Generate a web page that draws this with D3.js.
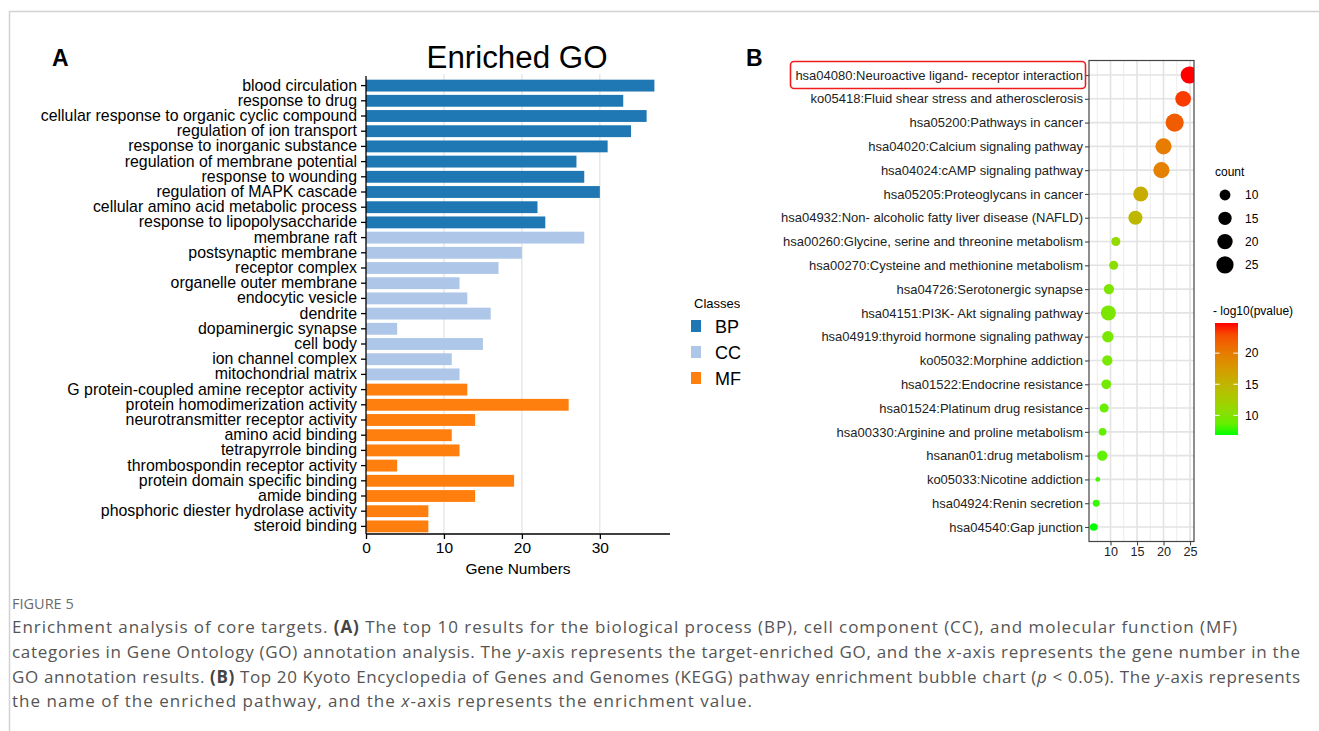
<!DOCTYPE html>
<html>
<head>
<meta charset="utf-8">
<script src="https://cdn.jsdelivr.net/npm/d3@7"></script>
<style>
  html, body { margin: 0; padding: 0; background: #fff; }
  svg { display: block; }
</style>
</head>
<body>
<svg id="fig" width="1319" height="731"></svg>
<script>
// ---------------- DATA ----------------
const goTerms = [
  "blood circulation", "response to drug", "cellular response to organic cyclic compound",
  "regulation of ion transport", "response to inorganic substance", "regulation of membrane potential",
  "response to wounding", "regulation of MAPK cascade", "cellular amino acid metabolic process",
  "response to lipopolysaccharide",
  "membrane raft", "postsynaptic membrane", "receptor complex", "organelle outer membrane",
  "endocytic vesicle", "dendrite", "dopaminergic synapse", "cell body", "ion channel complex",
  "mitochondrial matrix",
  "G protein-coupled amine receptor activity", "protein homodimerization activity",
  "neurotransmitter receptor activity", "amino acid binding", "tetrapyrrole binding",
  "thrombospondin receptor activity", "protein domain specific binding", "amide binding",
  "phosphoric diester hydrolase activity", "steroid binding"
];
const goCounts = [37, 33, 36, 34, 31, 27, 28, 30, 22, 23,
                  28, 20, 17, 12, 13, 16, 4, 15, 11, 12,
                  13, 26, 14, 11, 12, 4, 19, 14, 8, 8];
const goClasses = ["BP","BP","BP","BP","BP","BP","BP","BP","BP","BP",
                   "CC","CC","CC","CC","CC","CC","CC","CC","CC","CC",
                   "MF","MF","MF","MF","MF","MF","MF","MF","MF","MF"];
const classNames = ["BP", "CC", "MF"];
const goTicks = [0, 10, 20, 30];

const keggPathways = [
  "hsa04080:Neuroactive ligand- receptor interaction",
  "ko05418:Fluid shear stress and atherosclerosis",
  "hsa05200:Pathways in cancer",
  "hsa04020:Calcium signaling pathway",
  "hsa04024:cAMP signaling pathway",
  "hsa05205:Proteoglycans in cancer",
  "hsa04932:Non- alcoholic fatty liver disease (NAFLD)",
  "hsa00260:Glycine, serine and threonine metabolism",
  "hsa00270:Cysteine and methionine metabolism",
  "hsa04726:Serotonergic synapse",
  "hsa04151:PI3K- Akt signaling pathway",
  "hsa04919:thyroid hormone signaling pathway",
  "ko05032:Morphine addiction",
  "hsa01522:Endocrine resistance",
  "hsa01524:Platinum drug resistance",
  "hsa00330:Arginine and proline metabolism",
  "hsanan01:drug metabolism",
  "ko05033:Nicotine addiction",
  "hsa04924:Renin secretion",
  "hsa04540:Gap junction"
];
const keggEnrichment = [24.85, 23.7, 22.1, 20.0, 19.6, 15.7, 14.7, 11.0, 10.6, 9.7,
                        9.6, 9.5, 9.4, 9.2, 8.8, 8.5, 8.45, 7.6, 7.3, 6.84];
const keggLogP = [24.85, 23.7, 22.1, 20.0, 19.6, 15.7, 14.7, 11.0, 10.6, 9.7,
                  9.6, 9.5, 9.4, 9.2, 8.8, 8.5, 8.45, 7.6, 7.3, 6.84];
const keggCounts = [25, 21, 28, 22, 22, 19, 17, 7, 7, 9,
                    19, 11, 9, 8, 7, 5, 9, 2, 4, 5];
const keggTicks = [10, 15, 20, 25];
const sizeLegendValues = [10, 15, 20, 25];
const colorLegendTicks = [20, 15, 10];

const captionLines = [
  [["Enrichment analysis of core targets. ", ""], ["(A)", "b"], [" The top 10 results for the biological process (BP), cell component (CC), and molecular function (MF)", ""]],
  [["categories in Gene Ontology (GO) annotation analysis. The ", ""], ["y", "i"], ["-axis represents the target-enriched GO, and the ", ""], ["x", "i"], ["-axis represents the gene number in the", ""]],
  [["GO annotation results. ", ""], ["(B)", "b"], [" Top 20 Kyoto Encyclopedia of Genes and Genomes (KEGG) pathway enrichment bubble chart (", ""], ["p", "i"], [" < 0.05). The ", ""], ["y", "i"], ["-axis represents", ""]],
  [["the name of the enriched pathway, and the ", ""], ["x", "i"], ["-axis represents the enrichment value.", ""]]
];

// ---------------- DRAW ----------------
const svg = d3.select("#fig");
const SANS = "'Liberation Sans', Arial, Helvetica, sans-serif";

// page frame
svg.append("line").attr("x1", 9).attr("x2", 1319).attr("y1", 11.5).attr("y2", 11.5)
  .attr("stroke", "#d2d2d2").attr("stroke-width", 1.5);
svg.append("line").attr("x1", 9.5).attr("x2", 9.5).attr("y1", 11).attr("y2", 731)
  .attr("stroke", "#d2d2d2").attr("stroke-width", 1.5);

// ===== Panel A =====
const gA = svg.append("g").style("font-family", SANS);
gA.append("text").attr("x", 52).attr("y", 66).text("A")
  .style("font-size", "23px").style("font-weight", "bold");
gA.append("text").attr("x", 517).attr("y", 68).attr("text-anchor", "middle")
  .text("Enriched GO").style("font-size", "31px").attr("textLength", 181).attr("lengthAdjust", "spacingAndGlyphs");

const xA = d3.scaleLinear().domain([0, 39]).range([366, 670]);
const yA = d3.scaleBand().domain(goTerms).range([78, 534]).paddingInner(0.22).paddingOuter(0.11);
const colorA = d3.scaleOrdinal().domain(classNames).range(["#1f77b4", "#aec7e8", "#ff7f0e"]);

// grid
gA.append("g").selectAll("line").data(goTicks.filter(d => d > 0)).join("line")
  .attr("x1", d => xA(d)).attr("x2", d => xA(d)).attr("y1", 74).attr("y2", 534)
  .attr("stroke", "#dcdcdc").attr("stroke-width", 1);

// bars
gA.append("g").selectAll("rect").data(goTerms).join("rect")
  .attr("x", xA(0)).attr("y", d => yA(d))
  .attr("width", (d, i) => xA(goCounts[i]) - xA(0))
  .attr("height", yA.bandwidth())
  .attr("fill", (d, i) => colorA(goClasses[i]));

// y axis
const axYA = gA.append("g").attr("transform", `translate(${xA(0)},0)`)
  .call(d3.axisLeft(yA).tickSize(5).tickPadding(4));
axYA.select(".domain").attr("d", `M0,76V534`).attr("stroke", "#000").attr("stroke-width", 1.3);
axYA.selectAll(".tick line").attr("stroke", "#000").attr("stroke-width", 1.3);
axYA.selectAll(".tick text").style("font-size", "15.9px").style("font-family", SANS).attr("fill", "#000");

// x axis
const axXA = gA.append("g").attr("transform", "translate(0,534)")
  .call(d3.axisBottom(xA).tickValues(goTicks).tickSize(5).tickPadding(3));
axXA.select(".domain").attr("d", `M366,0H670`).attr("stroke", "#000").attr("stroke-width", 1.3);
axXA.selectAll(".tick line").attr("stroke", "#000").attr("stroke-width", 1.3);
axXA.selectAll(".tick text").style("font-size", "15.5px").style("font-family", SANS).attr("fill", "#000");
gA.append("text").attr("x", 518).attr("y", 574).attr("text-anchor", "middle")
  .text("Gene Numbers").style("font-size", "15.5px");

// legend
const legA = gA.append("g");
legA.append("text").attr("x", 694).attr("y", 308).text("Classes").style("font-size", "13px");
classNames.forEach((c, i) => {
  legA.append("rect").attr("x", 691).attr("y", 320 + i * 26).attr("width", 10).attr("height", 12)
    .attr("fill", colorA(c));
  legA.append("text").attr("x", 715).attr("y", 332.5 + i * 26).text(c).style("font-size", "18px");
});

// ===== Panel B =====
const gB = svg.append("g").style("font-family", SANS);
gB.append("text").attr("x", 746).attr("y", 66).text("B")
  .style("font-size", "23px").style("font-weight", "bold");

const px0 = 1089, px1 = 1194, py0 = 60.5, py1 = 541.5;
const xB = d3.scaleLinear().domain([5.94, 25.75]).range([px0, px1]);
const yB = d3.scalePoint().domain(keggPathways).range([75, 527]);
const rB = d3.scaleSqrt().domain([0, 30]).range([0, 9.42]);
const cDomain = [d3.min(keggLogP), d3.max(keggLogP)];
const colB = d3.scaleLinear().domain(cDomain).range(["#00ff00", "#ff0000"]).interpolate(d3.interpolateLab);

// panel background & grid
const defs = svg.append("defs");
defs.append("clipPath").attr("id", "clipB").append("rect")
  .attr("x", px0).attr("y", py0).attr("width", px1 - px0).attr("height", py1 - py0);
const minorTicks = [7.5, 12.5, 17.5, 22.5];
gB.append("g").selectAll("line").data(minorTicks).join("line")
  .attr("x1", d => xB(d)).attr("x2", d => xB(d)).attr("y1", py0).attr("y2", py1)
  .attr("stroke", "#ececec").attr("stroke-width", 1);
gB.append("g").selectAll("line").data(keggTicks).join("line")
  .attr("x1", d => xB(d)).attr("x2", d => xB(d)).attr("y1", py0).attr("y2", py1)
  .attr("stroke", "#e3e3e3").attr("stroke-width", 1.6);
gB.append("g").selectAll("line").data(keggPathways).join("line")
  .attr("x1", px0).attr("x2", px1).attr("y1", d => yB(d)).attr("y2", d => yB(d))
  .attr("stroke", "#e3e3e3").attr("stroke-width", 1.6);

// bubbles
gB.append("g").attr("clip-path", "url(#clipB)").selectAll("circle").data(keggPathways).join("circle")
  .attr("cx", (d, i) => xB(keggEnrichment[i]))
  .attr("cy", d => yB(d))
  .attr("r", (d, i) => rB(keggCounts[i]))
  .attr("fill", (d, i) => colB(keggLogP[i]));

// border
gB.append("rect").attr("x", px0).attr("y", py0).attr("width", px1 - px0).attr("height", py1 - py0)
  .attr("fill", "none").attr("stroke", "#444").attr("stroke-width", 1.2);

// axes
const axYB = gB.append("g").attr("transform", `translate(${px0},0)`)
  .call(d3.axisLeft(yB).tickSize(4).tickPadding(2));
axYB.select(".domain").remove();
axYB.selectAll(".tick line").attr("stroke", "#444").attr("stroke-width", 1.1);
axYB.selectAll(".tick text").style("font-size", "13px").style("font-family", SANS).attr("fill", "#222");

const axXB = gB.append("g").attr("transform", `translate(0,${py1})`)
  .call(d3.axisBottom(xB).tickValues(keggTicks).tickSize(4).tickPadding(2));
axXB.select(".domain").remove();
axXB.selectAll(".tick line").attr("stroke", "#444").attr("stroke-width", 1.1);
axXB.selectAll(".tick text").style("font-size", "12.6px").style("font-family", SANS).attr("fill", "#222");

// highlight box
gB.append("rect").attr("x", 790.5).attr("y", 61.5).attr("width", 295).attr("height", 27)
  .attr("rx", 3.5).attr("fill", "none").attr("stroke", "#ee1c1c").attr("stroke-width", 1.6);

// size legend
const legS = gB.append("g");
legS.append("text").attr("x", 1215).attr("y", 176).text("count").style("font-size", "12px");
sizeLegendValues.forEach((v, i) => {
  const cy = 195 + i * 23.3;
  legS.append("circle").attr("cx", 1225).attr("cy", cy).attr("r", rB(v)).attr("fill", "#000");
  legS.append("text").attr("x", 1245).attr("y", cy + 4.3).text(v).style("font-size", "12px");
});

// color legend
const legC = gB.append("g");
legC.append("text").attr("x", 1213).attr("y", 315).text("- log10(pvalue)").style("font-size", "12px");
const grad = defs.append("linearGradient").attr("id", "gradB")
  .attr("x1", 0).attr("y1", 1).attr("x2", 0).attr("y2", 0);
d3.range(0, 1.0001, 0.1).forEach(t => {
  grad.append("stop").attr("offset", t).attr("stop-color", colB(cDomain[0] + t * (cDomain[1] - cDomain[0])));
});
const cbX = 1215, cbW = 23, cbTop = 323, cbBot = 435;
const yC = d3.scaleLinear().domain(cDomain).range([cbBot, cbTop]);
legC.append("rect").attr("x", cbX).attr("y", cbTop).attr("width", cbW).attr("height", cbBot - cbTop)
  .attr("fill", "url(#gradB)");
colorLegendTicks.forEach(v => {
  const y = yC(v);
  legC.append("line").attr("x1", cbX).attr("x2", cbX + 4.6).attr("y1", y).attr("y2", y)
    .attr("stroke", "#fff").attr("stroke-width", 1);
  legC.append("line").attr("x1", cbX + cbW - 4.6).attr("x2", cbX + cbW).attr("y1", y).attr("y2", y)
    .attr("stroke", "#fff").attr("stroke-width", 1);
  legC.append("text").attr("x", 1245).attr("y", y + 4.3).text(v).style("font-size", "12px");
});

// ===== Caption =====
const CAP = "'Open Sans', 'Noto Sans', sans-serif";
svg.append("text").attr("x", 12).attr("y", 609).text("FIGURE 5")
  .style("font-family", CAP).style("font-size", "14.5px").attr("fill", "#6b6b6b");
const capY = [633, 658, 683, 707];
const capLen = [1225, 1288, 1288, 740];
captionLines.forEach((parts, li) => {
  const t = svg.append("text").attr("x", 12).attr("y", capY[li])
    .style("font-family", CAP).style("font-size", "17px").attr("fill", "#555")
    .attr("textLength", capLen[li]).attr("lengthAdjust", "spacing");
  parts.forEach(([s, st]) => {
    const ts = t.append("tspan").text(s);
    if (st === "b") ts.style("font-weight", "bold").attr("fill", "#444");
    if (st === "i") ts.style("font-style", "italic");
  });
});
</script>
</body>
</html>
